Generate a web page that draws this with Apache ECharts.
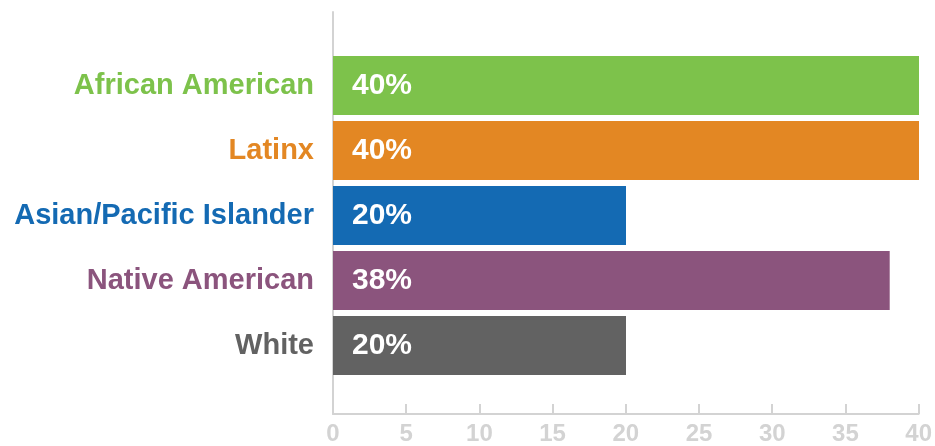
<!DOCTYPE html>
<html>
<head>
<meta charset="utf-8">
<script src="https://cdn.jsdelivr.net/npm/echarts@6/dist/echarts.min.js"></script>
<style>
  html, body { margin: 0; padding: 0; background: #fff; }
  #chart { width: 935px; height: 446px; }
</style>
</head>
<body>
<div id="chart"></div>
<script>
const categories = ["African American", "Latinx", "Asian/Pacific Islander", "Native American", "White"]
const values = [40, 40, 20, 38, 20]
const colors = ["#7dc24b", "#e38723", "#146ab3", "#8b547d", "#626262"]
const xTicks = { min: 0, max: 40, interval: 5 }

const font = "'Liberation Sans', Arial, sans-serif"
const axisGray = "#d3d3d3"

const chart = echarts.init(document.getElementById("chart"))

chart.setOption({
  animation: false,
  grid: [
    // frame grid: carries the long axis lines and x ticks
    { left: 333, right: 16, top: 12, bottom: 28 },
    // bar grid
    { left: 333, right: 16, top: 53, height: 325 }
  ],
  xAxis: [
    {
      gridIndex: 0,
      type: "value",
      min: xTicks.min,
      max: xTicks.max,
      interval: xTicks.interval,
      axisLine: { show: true, lineStyle: { color: axisGray, width: 2 } },
      axisTick: { show: true, inside: true, length: 10, lineStyle: { color: axisGray, width: 2 } },
      axisLabel: { color: axisGray, fontFamily: font, fontWeight: "bold", fontSize: 24, margin: 8 },
      splitLine: { show: false }
    },
    {
      gridIndex: 1,
      type: "value",
      min: xTicks.min,
      max: xTicks.max,
      show: false
    }
  ],
  yAxis: [
    {
      gridIndex: 0,
      type: "value",
      min: 0,
      max: 1,
      axisLine: { show: true, lineStyle: { color: axisGray, width: 2 } },
      axisTick: { show: false },
      axisLabel: { show: false },
      splitLine: { show: false }
    },
    {
      gridIndex: 1,
      type: "category",
      inverse: true,
      data: categories.map((c, i) => ({ value: c, textStyle: { color: colors[i] } })),
      axisLine: { show: false },
      axisTick: { show: false },
      axisLabel: { fontFamily: font, fontWeight: "bold", fontSize: 29, margin: 19 }
    }
  ],
  series: [
    {
      type: "bar",
      xAxisIndex: 1,
      yAxisIndex: 1,
      barWidth: 59,
      data: values.map((v, i) => ({ value: v, itemStyle: { color: colors[i] } })),
      label: {
        show: true,
        position: "insideLeft",
        distance: 19,
        formatter: "{c}%",
        color: "#fff",
        fontFamily: font,
        fontWeight: "bold",
        fontSize: 30
      }
    }
  ]
})
</script>
</body>
</html>
